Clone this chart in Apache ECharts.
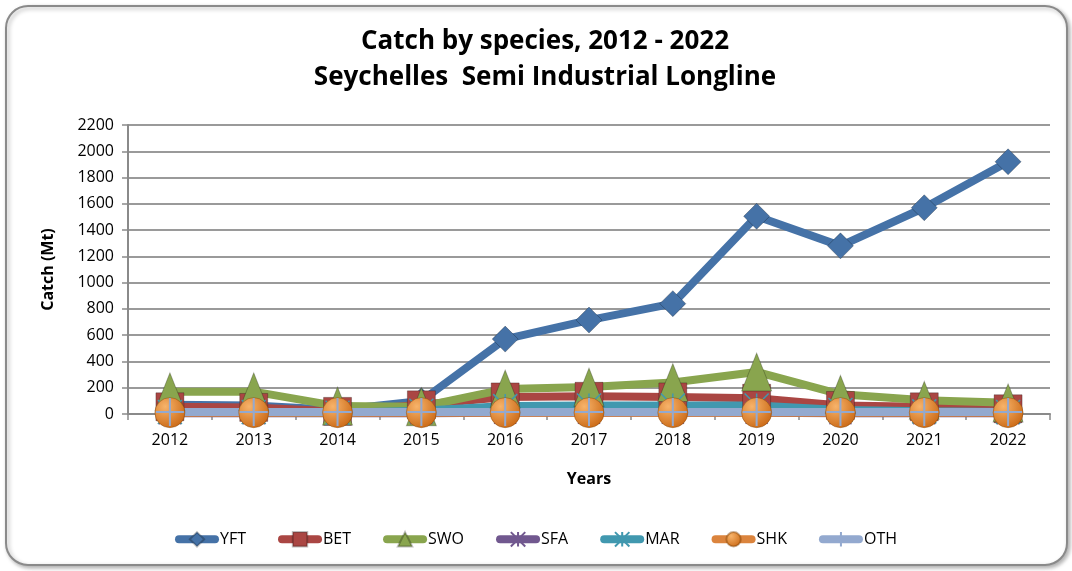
<!DOCTYPE html>
<html><head><meta charset="utf-8">
<script src="https://cdn.jsdelivr.net/npm/echarts@6/dist/echarts.min.js"></script>
<style>html,body{margin:0;padding:0;background:#fff}#c{width:1072px;height:571px}</style>
</head><body><div id="c"></div>
<script>
const years = ['2012','2013','2014','2015','2016','2017','2018','2019','2020','2021','2022'];
const YFT = [70, 65, 30, 100, 570, 715, 840, 1505, 1280, 1570, 1920];
const BET = [55, 50, 20, 70, 130, 135, 130, 120, 65, 55, 40];
const SWO = [170, 170, 60, 55, 190, 205, 240, 320, 150, 105, 85];
const SFA = [5, 5, 5, 5, 10, 10, 10, 10, 5, 5, 5];
const MAR = [15, 15, 10, 25, 60, 65, 65, 65, 30, 20, 15];
const SHK = [10, 10, 10, 10, 10, 10, 10, 10, 10, 10, 10];
const OTH = [15, 15, 15, 15, 15, 15, 15, 15, 15, 15, 15];
const yTicks = {min: 0, max: 2200, interval: 200};

const cross = 'path://M0,0 L10,10 M10,0 L0,10 M5,0 L5,10';
const plus = 'path://M5,0 L5,10 M0,5 L10,5';
function s(name, data, color, symbol, size, extra) {
  return Object.assign({
    name, type: 'line', data, symbol, symbolSize: size,
    lineStyle: {color, width: 8},
    itemStyle: {color, borderColor: 'rgba(0,0,0,0.25)', borderWidth: 1},
    emphasis: {disabled: true}
  }, extra || {});
}
const chart = echarts.init(document.getElementById('c'));
chart.setOption({
  animation: false,
  graphic: [{type: 'rect', left: 5, top: 5, shape: {width: 1061, height: 559, r: 22},
    style: {fill: '#fff', stroke: '#8a8a8a', lineWidth: 2, shadowBlur: 4, shadowColor: 'rgba(0,0,0,0.3)', shadowOffsetX: 2, shadowOffsetY: 2}, z: -10}],
  title: {text: 'Catch by species, 2012 - 2022\nSeychelles  Semi Industrial Longline', left: 540, top: 19, textAlign: 'center',
    textStyle: {fontFamily: 'Open Sans', fontWeight: 'bold', fontSize: 26, lineHeight: 36, color: '#000'}},
  grid: {left: 128, right: 22, top: 125, bottom: 157},
  legend: {bottom: 17, left: 'center', itemWidth: 36, itemHeight: 18, itemGap: 32,
    lineStyle: {width: 8, cap: 'round'},
    textStyle: {fontFamily: 'Open Sans', fontSize: 16, color: '#000'},
    data: ['YFT','BET','SWO','SFA','MAR','SHK','OTH']},
  xAxis: {type: 'category', data: years, boundaryGap: true,
    name: 'Years', nameLocation: 'middle', nameGap: 57,
    nameTextStyle: {fontFamily: 'Open Sans', fontWeight: 'bold', fontSize: 16, color: '#000'},
    axisLine: {lineStyle: {color: '#8a8a8a', width: 2}},
    axisTick: {show: true, length: 6, lineStyle: {color: '#8a8a8a', width: 1.5}},
    axisLabel: {fontFamily: 'Open Sans', fontSize: 16, color: '#000', margin: 18}},
  yAxis: {type: 'value', min: yTicks.min, max: yTicks.max, interval: yTicks.interval,
    name: 'Catch (Mt)', nameLocation: 'middle', nameGap: 72, nameRotate: 90,
    nameTextStyle: {fontFamily: 'Open Sans', fontWeight: 'bold', fontSize: 16, color: '#000'},
    axisLine: {show: true, lineStyle: {color: '#8a8a8a', width: 2}},
    axisTick: {show: true, length: 6, lineStyle: {color: '#8a8a8a', width: 1.5}},
    axisLabel: {fontFamily: 'Open Sans', fontSize: 16, color: '#000', margin: 14, formatter: v => String(v)},
    splitLine: {lineStyle: {color: '#9a9a9a', width: 2}}},
  series: [
    s('YFT', YFT, '#4572A7', 'diamond', 26),
    s('BET', BET, '#AA4643', 'rect', 28),
    s('SWO', SWO, '#89A54E', 'triangle', [30, 38]),
    s('SFA', SFA, '#71588F', cross, 22, {itemStyle: {color: 'none', borderColor: '#71588F', borderWidth: 1.5}}),
    s('MAR', MAR, '#4198AF', cross, 24, {itemStyle: {color: 'none', borderColor: '#4198AF', borderWidth: 1.5}}),
    s('SHK', SHK, '#DB843D', 'circle', 30, {itemStyle: {color: new echarts.graphic.RadialGradient(0.35, 0.3, 0.8, [{offset: 0, color: '#F7B36A'}, {offset: 1, color: '#C8640F'}]), borderColor: 'rgba(120,60,0,0.4)', borderWidth: 1}}),
    s('OTH', OTH, '#93A9CF', plus, 28, {itemStyle: {color: 'none', borderColor: '#93A9CF', borderWidth: 2}})
  ]
});
</script></body></html>
